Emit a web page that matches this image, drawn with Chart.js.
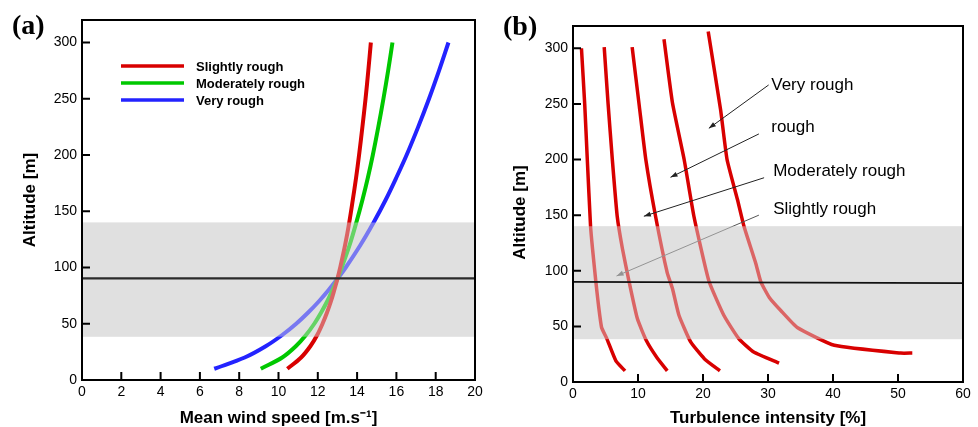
<!DOCTYPE html>
<html>
<head>
<meta charset="utf-8">
<script src="https://cdn.jsdelivr.net/npm/chart.js@4/dist/chart.umd.min.js"></script>
<style>
  html, body { margin: 0; padding: 0; background: #fff; }
  #wrap { position: relative; width: 978px; height: 427px; overflow: hidden; }
  #panelA { position: absolute; left: 0; top: 0; }
  #panelB { position: absolute; left: 490px; top: 0; }
</style>
</head>
<body>
<div id="wrap">
  <canvas id="panelA" width="490" height="427"></canvas>
  <canvas id="panelB" width="488" height="427"></canvas>
</div>
<script>
// ---------- Panel (a): mean wind speed profiles ----------
const altitudeA = [10, 20, 30, 40, 50, 60, 70, 80, 90, 100, 120, 140, 160, 180, 200, 225, 250, 275, 300];
const speedSlightly   = [10.45, 11.15, 11.62, 11.97, 12.24, 12.47, 12.67, 12.84, 13.0, 13.14, 13.39, 13.60, 13.78, 13.95, 14.10, 14.27, 14.43, 14.57, 14.70];
const speedModerately = [9.10, 10.19, 10.88, 11.40, 11.82, 12.17, 12.48, 12.75, 13.0, 13.22, 13.62, 13.96, 14.27, 14.55, 14.80, 15.08, 15.34, 15.58, 15.80];
const speedVery       = [6.73, 8.28, 9.35, 10.19, 10.90, 11.51, 12.06, 12.55, 13.0, 13.42, 14.17, 14.84, 15.45, 16.00, 16.52, 17.11, 17.66, 18.17, 18.65];
const seriesNamesA = ['Slightly rough', 'Moderately rough', 'Very rough'];
const xTicksA = [0, 2, 4, 6, 8, 10, 12, 14, 16, 18, 20];
const yTicks = [0, 50, 100, 150, 200, 250, 300];

// ---------- Panel (b): turbulence intensity profiles ----------
const ti1  = [8.0, 6.6, 5.2, 4.4, 3.9, 3.5, 3.0, 2.7, 2.2, 1.8, 1.3];
const alt1 = [10, 19, 39, 49, 70, 91, 120, 140, 200, 250, 300];
const ti2  = [14.5, 12.9, 11.3, 9.9, 8.6, 7.6, 6.8, 6.05, 5.4, 4.8];
const alt2 = [10, 22, 37, 57, 91, 120, 149, 200, 250, 301];
const ti3  = [22.6, 20.2, 18.1, 16.3, 15.3, 14.5, 12.7, 11.2, 10.2, 9.1];
const alt3 = [10, 21, 36, 60, 84, 98, 149, 200, 248, 301];
const ti4  = [31.7, 27.8, 25.5, 23.2, 20.9, 18.6, 17.1, 15.3, 14.0];
const alt4 = [17, 27, 39, 60, 91, 149, 200, 251, 308];
const ti5  = [52.2, 50.4, 40.2, 34.5, 32.0, 30.2, 28.9, 28.1, 26.3, 25.3, 23.7, 22.7, 20.8];
const alt5 = [26, 26, 33, 49, 64, 76, 90, 107, 140, 164, 200, 245, 315];
const xTicksB = [0, 10, 20, 30, 40, 50, 60];

// roughness labels with leader arrows: text anchor, arrow start, arrow tip (data units)
const noteTexts  = ['Very rough', 'rough', 'Moderately rough', 'Slightly rough'];
const noteX      = [30.5, 30.5, 30.8, 30.8];
const noteY      = [262.5, 225, 185.4, 151];
const arrowFromX = [30.1, 28.6, 29.4, 28.6];
const arrowFromY = [267, 223, 183.6, 150];
const arrowToX   = [20.9, 15.0, 10.9, 6.7];
const arrowToY   = [228, 184, 149, 95.3];
const arrowColors = ['#222', '#222', '#222', '#555'];

// shared rotor band and hub-height reference
const bandRange = [38.5, 140];
const refLineA = [90.3, 90.3];
const refLineB = [90, 88.9];

const FONT = '"Liberation Sans", Arial, Helvetica, sans-serif';
const RED = '#d80000', GREEN = '#00c800', BLUE = '#2323ff';

function pts(xs, ys) { return xs.map((v, i) => ({ x: v, y: ys[i] })); }

const decor = {
  id: 'decor',
  beforeDatasetsDraw(chart, args, o) {
    const { ctx, chartArea: ca, scales: { y } } = chart;
    const t = y.getPixelForValue(bandRange[1]), b = y.getPixelForValue(bandRange[0]);
    ctx.save();
    ctx.fillStyle = '#e0e0e0';
    ctx.fillRect(ca.left, t, ca.right - ca.left, b - t);
    ctx.restore();
  },
  afterDatasetsDraw(chart, args, o) {
    const { ctx, chartArea: ca, scales: { x, y } } = chart;
    ctx.save();
    // leader arrows
    if (o.arrows) {
      for (let i = 0; i < noteTexts.length; i++) {
        const x0 = x.getPixelForValue(arrowFromX[i]), y0 = y.getPixelForValue(arrowFromY[i]);
        const x1 = x.getPixelForValue(arrowToX[i]),   y1 = y.getPixelForValue(arrowToY[i]);
        ctx.strokeStyle = arrowColors[i];
        ctx.fillStyle = arrowColors[i];
        ctx.lineWidth = 1;
        ctx.beginPath(); ctx.moveTo(x0, y0); ctx.lineTo(x1, y1); ctx.stroke();
        const ang = Math.atan2(y1 - y0, x1 - x0), L = 7, W = 2.6;
        ctx.beginPath();
        ctx.moveTo(x1, y1);
        ctx.lineTo(x1 - L * Math.cos(ang) + W * Math.sin(ang), y1 - L * Math.sin(ang) - W * Math.cos(ang));
        ctx.lineTo(x1 - L * Math.cos(ang) - W * Math.sin(ang), y1 - L * Math.sin(ang) + W * Math.cos(ang));
        ctx.closePath(); ctx.fill();
      }
    }
    // translucent band over the curves
    const t = y.getPixelForValue(bandRange[1]), b = y.getPixelForValue(bandRange[0]);
    ctx.fillStyle = 'rgba(224,224,224,0.45)';
    ctx.fillRect(ca.left, t, ca.right - ca.left, b - t);
    // reference altitude line
    ctx.strokeStyle = o.refColor;
    ctx.lineWidth = o.refWidth;
    ctx.beginPath();
    ctx.moveTo(x.getPixelForValue(x.min), y.getPixelForValue(o.ref[0]));
    ctx.lineTo(x.getPixelForValue(x.max), y.getPixelForValue(o.ref[1]));
    ctx.stroke();
    // frame and inward ticks
    ctx.strokeStyle = '#000';
    ctx.lineWidth = 2;
    ctx.strokeRect(ca.left, ca.top, ca.right - ca.left, ca.bottom - ca.top);
    ctx.beginPath();
    x.ticks.forEach(tk => {
      const px = x.getPixelForValue(tk.value);
      ctx.moveTo(px, ca.bottom); ctx.lineTo(px, ca.bottom - 8);
    });
    y.ticks.forEach(tk => {
      const py = y.getPixelForValue(tk.value);
      ctx.moveTo(ca.left, py); ctx.lineTo(ca.left + 8, py);
    });
    ctx.stroke();
    ctx.restore();
  },
  afterDraw(chart, args, o) {
    const { ctx, scales: { x, y } } = chart;
    ctx.save();
    // panel letter
    ctx.fillStyle = '#000';
    ctx.font = 'bold 28px "Liberation Serif", "Times New Roman", serif';
    ctx.textBaseline = 'alphabetic';
    ctx.fillText(o.letter, o.letterX, o.letterY);
    // legend
    if (o.legend) {
      chart.data.datasets.forEach((ds, i) => {
        const ly = 66 + i * 17;
        ctx.strokeStyle = ds.borderColor;
        ctx.lineWidth = 3.5;
        ctx.beginPath(); ctx.moveTo(121, ly); ctx.lineTo(184, ly); ctx.stroke();
        ctx.fillStyle = '#000';
        ctx.font = 'bold 13px ' + FONT;
        ctx.textBaseline = 'middle';
        ctx.fillText(ds.label, 196, ly + 1);
      });
    }
    // roughness notes
    if (o.arrows) {
      ctx.fillStyle = '#000';
      ctx.font = '17px ' + FONT;
      ctx.textBaseline = 'alphabetic';
      noteTexts.forEach((s, i) => {
        ctx.fillText(s, x.getPixelForValue(noteX[i]), y.getPixelForValue(noteY[i]));
      });
    }
    ctx.restore();
  }
};

function axisX(min, max, ticksArr, title, height) {
  return {
    type: 'linear', min, max,
    afterBuildTicks: s => { s.ticks = ticksArr.map(v => ({ value: v })); },
    afterFit: s => { s.height = height; },
    grid: { display: false, drawTicks: false },
    border: { display: true, color: '#000', width: 2 },
    ticks: { color: '#000', font: { family: FONT, size: 14 }, padding: 4, maxRotation: 0, autoSkip: false },
    title: { display: true, text: title, color: '#000', font: { family: FONT, size: 17, weight: 'bold', lineHeight: 1 }, padding: { top: 0, bottom: 0.5 } }
  };
}
function axisY(width, title) {
  return {
    type: 'linear', min: 0, max: 320,
    afterBuildTicks: s => { s.ticks = yTicks.map(v => ({ value: v })); },
    afterFit: s => { s.width = width; },
    grid: { display: false, drawTicks: false },
    border: { display: true, color: '#000', width: 2 },
    ticks: { color: '#000', font: { family: FONT, size: 14 }, padding: 5, autoSkip: false },
    title: { display: true, text: title, color: '#000', font: { family: FONT, size: 17, weight: 'bold', lineHeight: 1 }, padding: { top: 22, bottom: 0 } }
  };
}

Chart.defaults.font.family = FONT;

new Chart(document.getElementById('panelA'), {
  type: 'line',
  data: {
    datasets: [
      { label: seriesNamesA[0], data: pts(speedSlightly, altitudeA), borderColor: RED },
      { label: seriesNamesA[1], data: pts(speedModerately, altitudeA), borderColor: GREEN },
      { label: seriesNamesA[2], data: pts(speedVery, altitudeA), borderColor: BLUE }
    ].map(d => Object.assign(d, { borderWidth: 4, pointRadius: 0, tension: 0.35, fill: false, borderCapStyle: 'butt' }))
  },
  options: {
    responsive: false, animation: false, devicePixelRatio: 1,
    layout: { padding: { left: 0, right: 15, top: 20, bottom: 0 } },
    plugins: {
      legend: { display: false }, tooltip: { enabled: false },
      decor: { letter: '(a)', letterX: 12, letterY: 34, legend: true, arrows: false, ref: refLineA, refColor: '#2b2b2b', refWidth: 2.2 }
    },
    scales: {
      x: axisX(0, 20, xTicksA, 'Mean wind speed [m.s\u207B\u00B9]', 47),
      y: axisY(82, 'Altitude [m]')
    }
  },
  plugins: [decor]
});

new Chart(document.getElementById('panelB'), {
  type: 'line',
  data: {
    datasets: [
      { label: 'Profile 1', data: pts(ti1, alt1) },
      { label: 'Profile 2', data: pts(ti2, alt2) },
      { label: 'Profile 3', data: pts(ti3, alt3) },
      { label: 'Profile 4', data: pts(ti4, alt4) },
      { label: 'Profile 5', data: pts(ti5, alt5) }
    ].map(d => Object.assign(d, { borderColor: RED, borderWidth: 3.5, pointRadius: 0, tension: 0.15, fill: false }))
  },
  options: {
    responsive: false, animation: false, devicePixelRatio: 1,
    layout: { padding: { left: 0, right: 15, top: 26, bottom: 0 } },
    plugins: {
      legend: { display: false }, tooltip: { enabled: false },
      decor: { letter: '(b)', letterX: 13, letterY: 35, legend: false, arrows: true, ref: refLineB, refColor: '#111', refWidth: 1.6 }
    },
    scales: {
      x: axisX(0, 60, xTicksB, 'Turbulence intensity [%]', 45),
      // trailing em space lowers the rotated title slightly along the axis
      y: axisY(83, 'Altitude [m]\u2003')
    }
  },
  plugins: [decor]
});
</script>
</body>
</html>
